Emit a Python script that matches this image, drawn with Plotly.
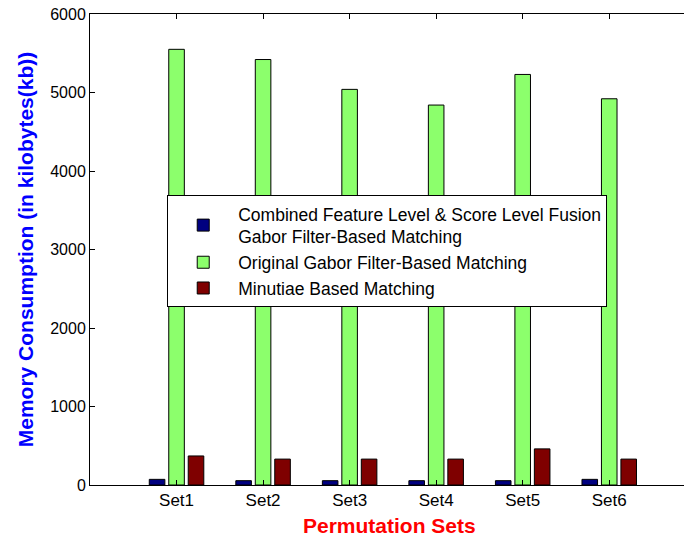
import plotly.graph_objects as go

sets = ["Set1", "Set2", "Set3", "Set4", "Set5", "Set6"]
positions = [1, 2, 3, 4, 5, 6]
combined = [72, 55, 55, 55, 55, 72]
gabor = [5550, 5420, 5040, 4840, 5230, 4920]
minutiae = [370, 330, 330, 330, 460, 330]
series_names = [
    "Combined Feature Level & Score Level Fusion<br>Gabor Filter-Based Matching",
    "Original Gabor Filter-Based Matching",
    "Minutiae Based Matching",
]
colors = ["#000080", "#8cff6c", "#7f0000"]

FONT = "Liberation Sans, Arial, sans-serif"

fig = go.Figure()
for i, (name, vals, col) in enumerate(zip(series_names, [combined, gabor, minutiae], colors)):
    fig.add_trace(go.Bar(
        x=positions, y=vals, name=name,
        marker=dict(color=col, line=dict(color="black", width=1)),
    ))

fig.update_layout(
    width=684, height=537,
    margin=dict(l=90, r=0, t=14, b=52),
    paper_bgcolor="white", plot_bgcolor="white",
    barmode="group", bargap=0.325, bargroupgap=0.2,
    font=dict(family=FONT, size=16, color="black"),
    showlegend=True,
    legend=dict(
        x=0.13, y=0.616, xanchor="left", yanchor="top",
        bgcolor="white", bordercolor="black", borderwidth=1,
        font=dict(family=FONT, size=17.5, color="black"),
        itemwidth=60,
    ),
    xaxis=dict(
        range=[0, 6.864], tickmode="array", tickvals=positions, ticktext=sets,
        showline=True, linecolor="black", linewidth=1, mirror="ticks",
        ticks="inside", ticklen=5, tickcolor="black",
        showgrid=False, zeroline=False,
        tickfont=dict(family=FONT, size=17, color="black"),
    ),
    yaxis=dict(
        range=[0, 6000], tickvals=[0, 1000, 2000, 3000, 4000, 5000, 6000],
        showline=True, linecolor="black", linewidth=1, mirror=False,
        ticks="inside", ticklen=5, tickcolor="black",
        showgrid=False, zeroline=False,
        tickfont=dict(family=FONT, size=16, color="black"),
        title=dict(text="<b>Memory Consumption (in kilobytes(kb))</b>",
                   font=dict(family=FONT, size=21, color="blue"), standoff=10),
    ),
    annotations=[dict(
        text="<b>Permutation Sets</b>", xref="paper", yref="paper",
        x=0.505, y=-0.087, xanchor="center", yanchor="middle", showarrow=False,
        font=dict(family=FONT, size=21, color="red"),
    )],
)

fig.write_html("out.html")
